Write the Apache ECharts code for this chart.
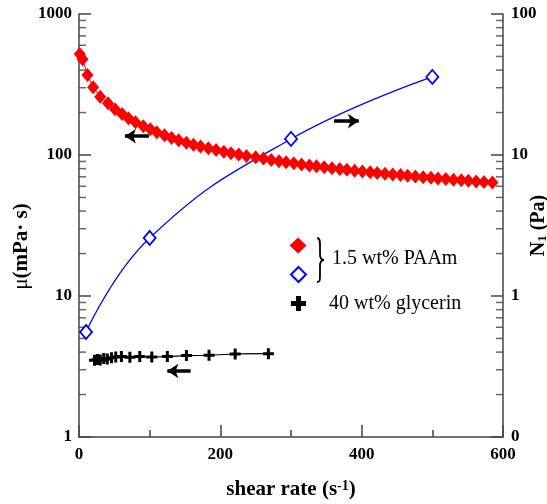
<!DOCTYPE html>
<html><head><meta charset="utf-8">
<script src="https://cdn.jsdelivr.net/npm/echarts@6/dist/echarts.min.js"></script>
<style>html,body{margin:0;padding:0;background:#fff}#c{width:547px;height:504px}</style>
</head><body><div id="c"></div>
<script>
// ---- data ----
const shearPAAm = [1, 5, 12, 20, 30, 41, 51, 61, 70, 80, 91, 101, 110, 121, 131, 141, 152, 162, 172, 183, 194, 205, 215, 226, 237, 250,
  261, 272, 283, 293, 304, 315, 326, 336, 347, 358, 369, 379, 390, 401, 412, 422, 433, 444, 455, 465, 476, 487, 498, 508, 519, 530, 541, 551, 562, 573, 585];
const viscPAAm = [520, 477, 369, 302, 259, 233, 211, 195, 182, 171, 160, 152, 145, 138, 132, 127, 122, 118, 115, 111.5, 108.5, 105.5, 103, 100.7, 98.5, 96.2,
  94.4, 92.2, 90.4, 88.9, 87.3, 85.8, 84.4, 83.1, 81.9, 80.7, 79.6, 78.5, 77.4, 76.4, 75.5, 74.6, 73.7, 72.8, 72.0, 71.2, 70.4, 69.6, 68.9, 68.2, 67.5, 66.8, 66.2, 65.6, 65.0, 64.4, 63.8];
const shearN1 = [10, 100, 300, 500];
const n1PAAm = [0.556, 2.58, 13.0, 35.8];
const shearGly = [22, 26, 30, 35, 40, 46, 52, 60, 72, 86, 103, 125, 152, 184, 221, 268];
const viscGly = [3.50, 3.55, 3.52, 3.60, 3.58, 3.65, 3.70, 3.72, 3.68, 3.72, 3.70, 3.72, 3.78, 3.80, 3.88, 3.90];
const xLabels = [0, 200, 400, 600];
const leftMinorTicks = [2,3,4,5,6,7,8,9,20,30,40,50,60,70,80,90,200,300,400,500,600,700,800,900];
const rightMinorTicks = [0.2,0.3,0.4,0.5,0.6,0.7,0.8,0.9,2,3,4,5,6,7,8,9,20,30,40,50,60,70,80,90];
// annotation arrows [xFrom, xTo, y]
const arrowMu = [99, 65, 136];
const arrowN1 = [361, 396, 17.4];
const arrowGly = [158, 125, 2.94];
const legendPAAm = '1.5 wt% PAAm';
const legendGly = '40 wt% glycerin';

const FONT = 'Liberation Serif';
const AX = '#444';
const X_MIN = 0, X_MAX = 600;
const MINOR_PX = 7;
const zip = (a, b) => a.map((v, i) => [v, b[i]]);
const arrowItem = (a) => [
  { coord: [a[0], a[2]], symbol: 'none' },
  { coord: [a[1], a[2]], symbol: 'arrow', symbolSize: [11, 11] }
];
const markLineOf = (items) => ({
  silent: true, animation: false, symbol: 'none',
  lineStyle: { color: '#000', width: 3.5, type: 'solid' },
  label: { show: false }, emphasis: { disabled: true },
  data: items
});
// minor ticks of the log axes: short rect symbols placed through the axes' scales
const minorTickSeries = (vals, x, yAxisIndex, dir) => ({
  type: 'scatter', yAxisIndex: yAxisIndex, z: 1, silent: true, clip: false,
  data: vals.map(v => [x, v]),
  symbol: 'rect', symbolSize: [MINOR_PX, 1.5], symbolOffset: [dir * MINOR_PX / 2, 0],
  itemStyle: { color: AX }, emphasis: { disabled: true }, tooltip: { show: false }
});
const plusPath = 'path://M4,0H7V4H11V7H7V11H4V7H0V4H4Z';
const lab = { fontFamily: FONT, fontWeight: 'bold', fontSize: 17, color: '#000' };
const braceStyle = { fill: 'none', stroke: '#000', lineWidth: 1.8 };

const chart = echarts.init(document.getElementById('c'));
chart.setOption({
  animation: false,
  backgroundColor: '#fff',
  grid: { left: 79, right: 44, top: 14, bottom: 67, outerBoundsMode: 'none', containLabel: false },
  xAxis: {
    type: 'value', min: X_MIN, max: X_MAX, interval: 200, position: 'bottom',
    axisLine: { show: true, lineStyle: { color: AX, width: 1.5 } },
    axisTick: { show: true, inside: true, length: 12, lineStyle: { color: AX, width: 1.5 } },
    minorTick: { show: true, splitNumber: 2, length: 7, lineStyle: { color: AX, width: 1.5 } },
    axisLabel: Object.assign({ margin: 9, customValues: xLabels }, lab),
    splitLine: { show: false },
    name: '{t|shear rate (s}{sup|-1}{t|)}', nameLocation: 'middle', nameGap: 42, nameMoveOverlap: false,
    nameTextStyle: { rich: {
      t: { fontFamily: FONT, fontWeight: 'bold', fontSize: 21, color: '#000' },
      sup: { fontFamily: FONT, fontWeight: 'bold', fontSize: 14, color: '#000', verticalAlign: 'top', padding: [0, 0, 6, 0] } } }
  },
  yAxis: [{
    type: 'log', logBase: 10, min: 1, max: 1000, position: 'left',
    axisLine: { show: true, lineStyle: { color: AX, width: 1.5 } },
    axisTick: { show: true, inside: true, length: 12, lineStyle: { color: AX, width: 1.5 } },
    axisLabel: Object.assign({ margin: 7, formatter: v => String(Math.round(v)) }, lab),
    splitLine: { show: false },
    name: '{mu|μ}{t|(mPa· s)}', nameLocation: 'middle', nameGap: 47, nameRotate: 90, nameMoveOverlap: false,
    nameTextStyle: { padding: [0, 42, 0, 0], rich: {
      mu: { fontFamily: FONT, fontSize: 21, color: '#000' },
      t: { fontFamily: FONT, fontWeight: 'bold', fontSize: 21, color: '#000' } } }
  }, {
    type: 'log', logBase: 10, min: 0.1, max: 100, position: 'right',
    axisLine: { show: true, lineStyle: { color: AX, width: 1.5 } },
    axisTick: { show: true, inside: true, length: 12, lineStyle: { color: AX, width: 1.5 } },
    axisLabel: Object.assign({ margin: 8, formatter: v => (v < 0.5 ? '0' : String(Math.round(v))) }, lab),
    splitLine: { show: false },
    name: '{t|N}{sub|1}{t| (Pa)}', nameLocation: 'middle', nameGap: 26, nameRotate: 90, nameMoveOverlap: false,
    nameTextStyle: { rich: {
      t: { fontFamily: FONT, fontWeight: 'bold', fontSize: 20, color: '#000' },
      sub: { fontFamily: FONT, fontWeight: 'bold', fontSize: 13, color: '#000', verticalAlign: 'bottom' } } }
  }],
  series: [{
    name: 'N1 PAAm', type: 'line', yAxisIndex: 1, z: 2,
    data: zip(shearN1, n1PAAm), smooth: 0.45,
    symbol: 'diamond', symbolSize: [12, 14],
    itemStyle: { color: '#fff', borderColor: '#0000ff', borderWidth: 1.8 },
    lineStyle: { color: '#0000ff', width: 1.2 },
    emphasis: { disabled: true },
    markLine: markLineOf([arrowItem(arrowN1)])
  }, {
    name: 'mu PAAm', type: 'line', yAxisIndex: 0, z: 3,
    data: zip(shearPAAm, viscPAAm),
    symbol: 'diamond', symbolSize: [12, 14],
    itemStyle: { color: '#ff0000' },
    lineStyle: { color: '#ff0000', width: 1 },
    emphasis: { disabled: true },
    markLine: markLineOf([arrowItem(arrowMu)])
  }, {
    name: 'mu glycerin', type: 'line', yAxisIndex: 0, z: 3,
    data: zip(shearGly, viscGly),
    symbol: plusPath, symbolSize: 11,
    itemStyle: { color: '#000' },
    lineStyle: { color: '#000', width: 1.2 },
    emphasis: { disabled: true },
    markLine: markLineOf([arrowItem(arrowGly)])
  },
  minorTickSeries(leftMinorTicks, X_MIN, 0, 1),
  minorTickSeries(rightMinorTicks, X_MAX, 1, -1)],
  graphic: [
    { type: 'polygon', shape: { points: [[298, 237.5], [306.5, 245.5], [298, 253.5], [289.5, 245.5]] }, style: { fill: '#ff0000' } },
    { type: 'polygon', shape: { points: [[298.5, 267], [306, 274.5], [298.5, 282], [291, 274.5]] }, style: { fill: '#fff', stroke: '#0000ff', lineWidth: 2 } },
    { type: 'bezierCurve', shape: { x1: 317, y1: 238, cpx1: 320, cpy1: 238, cpx2: 320, cpy2: 241, x2: 320, y2: 245 }, style: braceStyle },
    { type: 'line', shape: { x1: 320, y1: 245, x2: 320, y2: 254 }, style: braceStyle },
    { type: 'bezierCurve', shape: { x1: 320, y1: 254, cpx1: 320, cpy1: 258, cpx2: 321, cpy2: 260, x2: 324, y2: 260 }, style: braceStyle },
    { type: 'bezierCurve', shape: { x1: 324, y1: 260, cpx1: 321, cpy1: 260, cpx2: 320, cpy2: 262, x2: 320, y2: 266 }, style: braceStyle },
    { type: 'line', shape: { x1: 320, y1: 266, x2: 320, y2: 276 }, style: braceStyle },
    { type: 'bezierCurve', shape: { x1: 320, y1: 276, cpx1: 320, cpy1: 280, cpx2: 320, cpy2: 282, x2: 317, y2: 282 }, style: braceStyle },
    { type: 'text', x: 332, y: 259, style: { text: legendPAAm, font: '20px "Liberation Serif"', fill: '#000', verticalAlign: 'middle' } },
    { type: 'polygon', shape: { points: [[296, 296], [301, 296], [301, 301], [306, 301], [306, 306], [301, 306], [301, 311], [296, 311], [296, 306], [291, 306], [291, 301], [296, 301]] }, style: { fill: '#000' } },
    { type: 'text', x: 329, y: 304, style: { text: legendGly, font: '20px "Liberation Serif"', fill: '#000', verticalAlign: 'middle' } }
  ]
});
</script></body></html>
